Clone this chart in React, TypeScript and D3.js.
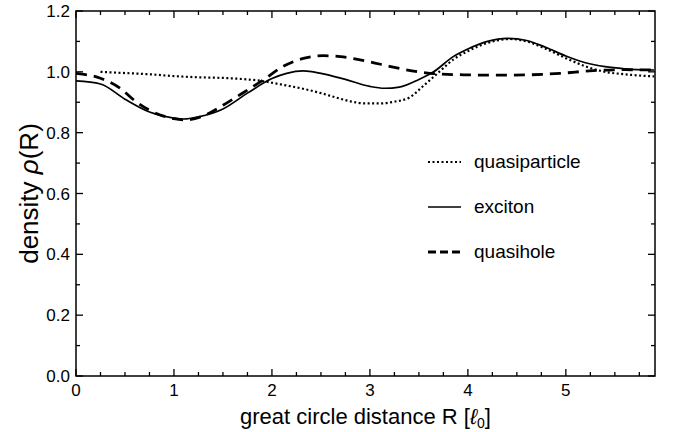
import React from "react";
import * as d3 from "d3";

const excitonR = [0, 0.25, 0.5, 0.75, 1.0, 1.1, 1.25, 1.5, 1.75, 2.0, 2.15, 2.32, 2.5, 2.75, 3.0, 3.15, 3.3, 3.5, 3.65, 3.85, 4.0, 4.2, 4.4, 4.6, 4.8, 5.0, 5.2, 5.4, 5.6, 5.9];
const excitonRho = [0.970, 0.960, 0.91, 0.868, 0.848, 0.845, 0.852, 0.878, 0.93, 0.978, 0.995, 1.003, 0.995, 0.975, 0.952, 0.946, 0.950, 0.975, 1.000, 1.050, 1.075, 1.100, 1.110, 1.103, 1.080, 1.052, 1.030, 1.017, 1.010, 1.006];

const quasiholeR = [0, 0.25, 0.45, 0.62, 0.86, 1.0, 1.13, 1.3, 1.5, 1.64, 1.91, 2.11, 2.32, 2.52, 2.7, 2.9, 3.0, 3.2, 3.5, 3.7, 4.0, 4.3, 4.6, 4.94, 5.28, 5.6, 5.9];
const quasiholeRho = [0.995, 0.979, 0.946, 0.90, 0.858, 0.846, 0.842, 0.855, 0.89, 0.918, 0.973, 1.017, 1.044, 1.053, 1.050, 1.039, 1.033, 1.018, 1.0, 0.993, 0.99, 0.989, 0.99, 0.995, 1.004, 1.007, 1.006];

const quasiparticleR = [0.25, 0.5, 0.75, 1.0, 1.25, 1.5, 1.75, 1.9, 2.05, 2.2, 2.35, 2.5, 2.66, 2.8, 2.95, 3.1, 3.25, 3.4, 3.55, 3.7, 3.85, 4.0, 4.2, 4.43, 4.6, 4.8, 5.0, 5.2, 5.4, 5.6, 5.9];
const quasiparticleRho = [1.000, 0.996, 0.992, 0.986, 0.982, 0.980, 0.975, 0.970, 0.961, 0.952, 0.942, 0.930, 0.915, 0.903, 0.896, 0.896, 0.902, 0.915, 0.955, 0.998, 1.04, 1.068, 1.095, 1.108, 1.100, 1.075, 1.045, 1.018, 1.0, 0.992, 0.985];

const xMajorTicks = [0, 1, 2, 3, 4, 5];
const yMajorTicks = [0, 0.2, 0.4, 0.6, 0.8, 1.0, 1.2];
const legendLabels = ["quasiparticle", "exciton", "quasihole"];

const W = 673, H = 432;
const M = { left: 76, right: 673 - 655, top: 11, bottom: 432 - 376 };
const FONT = "'Liberation Sans', Arial, Helvetica, sans-serif";

export default function App() {
  const x = d3.scaleLinear().domain([0, 5.91]).range([M.left, W - M.right]);
  const y = d3.scaleLinear().domain([0, 1.2]).range([H - M.bottom, M.top]);
  const line = d3.line<[number, number]>().x(d => x(d[0])).y(d => y(d[1])).curve(d3.curveMonotoneX);
  const zip = (a: number[], b: number[]) => a.map((v, i) => [v, b[i]] as [number, number]);

  const series = [
    { name: legendLabels[0], data: zip(quasiparticleR, quasiparticleRho), dash: "2,2.5", legendDash: "2,2.5", width: 2.2 },
    { name: legendLabels[1], data: zip(excitonR, excitonRho), dash: "", legendDash: "", width: 1.7 },
    { name: legendLabels[2], data: zip(quasiholeR, quasiholeRho), dash: "11,7", legendDash: "8,4", width: 2.8 },
  ];

  const xMinor = d3.range(0, 5.91, 0.25).filter(v => Math.abs(v - Math.round(v)) > 1e-6);
  const yMinor = d3.range(0.1, 1.2, 0.2);
  const x0 = x.range()[0], x1 = x.range()[1], y0 = y.range()[0], y1 = y.range()[1];
  const legendY = [162, 207, 252];

  return (
    <svg width={W} height={H} style={{ position: "absolute", left: 0, top: 0, background: "#fff" }} fontFamily={FONT}>
      <defs>
        <clipPath id="plot"><rect x={x0} y={y1} width={x1 - x0} height={y0 - y1} /></clipPath>
      </defs>
      <g clipPath="url(#plot)">
        {series.map(s => (
          <path key={s.name} d={line(s.data) || ""} fill="none" stroke="#000" strokeWidth={s.width} strokeDasharray={s.dash} />
        ))}
      </g>
      {xMajorTicks.map(t => (
        <g key={"xm" + t}>
          <line x1={x(t)} x2={x(t)} y1={y0} y2={y0 - 7} stroke="#000" strokeWidth={1.3} />
          <line x1={x(t)} x2={x(t)} y1={y1} y2={y1 + 7} stroke="#000" strokeWidth={1.3} />
          <text x={x(t)} y={396} textAnchor="middle" fontSize={17}>{t}</text>
        </g>
      ))}
      {xMinor.map(t => (
        <g key={"xn" + t}>
          <line x1={x(t)} x2={x(t)} y1={y0} y2={y0 - 4} stroke="#000" strokeWidth={1.3} />
          <line x1={x(t)} x2={x(t)} y1={y1} y2={y1 + 4} stroke="#000" strokeWidth={1.3} />
        </g>
      ))}
      {yMajorTicks.map(t => (
        <g key={"ym" + t}>
          <line x1={x0} x2={x0 + 7} y1={y(t)} y2={y(t)} stroke="#000" strokeWidth={1.3} />
          <line x1={x1} x2={x1 - 7} y1={y(t)} y2={y(t)} stroke="#000" strokeWidth={1.3} />
          <text x={70} y={y(t) + 6} textAnchor="end" fontSize={17}>{t.toFixed(1)}</text>
        </g>
      ))}
      {yMinor.map(t => (
        <g key={"yn" + t}>
          <line x1={x0} x2={x0 + 4} y1={y(t)} y2={y(t)} stroke="#000" strokeWidth={1.3} />
          <line x1={x1} x2={x1 - 4} y1={y(t)} y2={y(t)} stroke="#000" strokeWidth={1.3} />
        </g>
      ))}
      <rect x={x0} y={y1} width={x1 - x0} height={y0 - y1} fill="none" stroke="#000" strokeWidth={1.5} />
      {series.map((s, i) => (
        <g key={"lg" + i}>
          <line x1={428} x2={461} y1={legendY[i]} y2={legendY[i]} stroke="#000" strokeWidth={s.width} strokeDasharray={s.legendDash} />
          <text x={474} y={legendY[i] + 6} fontSize={19}>{s.name}</text>
        </g>
      ))}
      <text x={(x0 + x1) / 2} y={424} textAnchor="middle" fontSize={22}>
        great circle distance R [<tspan fontStyle="italic">ℓ</tspan><tspan fontSize={14} dy={4}>0</tspan><tspan dy={-4}>]</tspan>
      </text>
      <text transform={`translate(38,${(y0 + y1) / 2}) rotate(-90)`} textAnchor="middle" fontSize={26}>
        density <tspan fontStyle="italic">ρ</tspan>(R)
      </text>
    </svg>
  );
}
